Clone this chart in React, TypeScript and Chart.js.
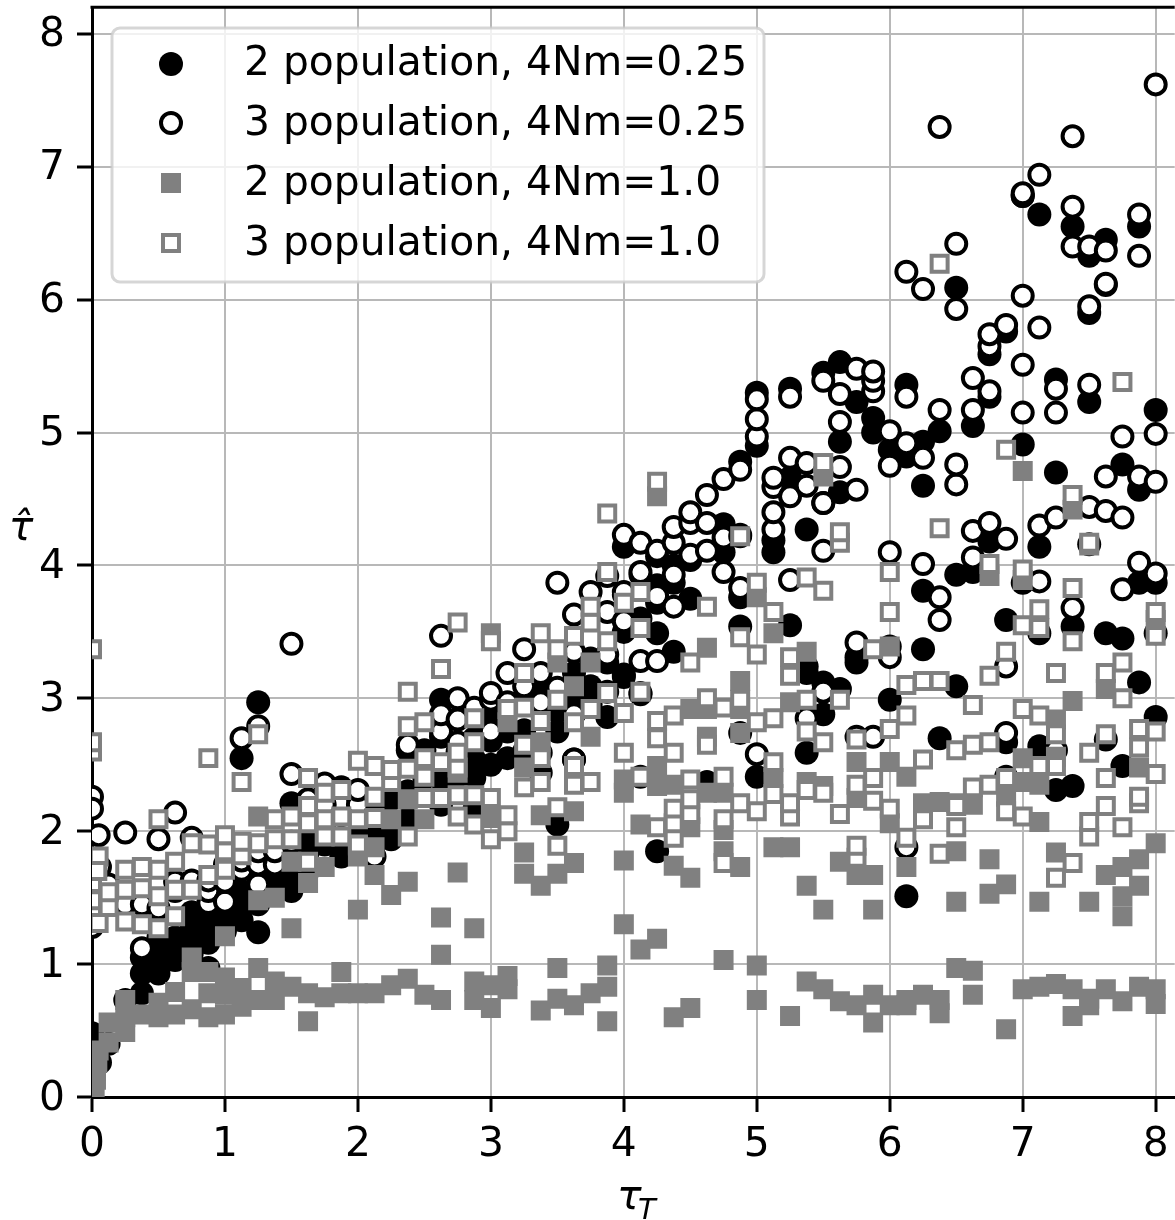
import React, { useEffect, useRef } from "react";
import { Chart, registerables } from "chart.js";

Chart.register(...registerables);

const seriesLabels = [
  "2 population, 4Nm=0.25",
  "3 population, 4Nm=0.25",
  "2 population, 4Nm=1.0",
  "3 population, 4Nm=1.0",
];
const xTicks = [0, 1, 2, 3, 4, 5, 6, 7, 8];
const yTicks = [0, 1, 2, 3, 4, 5, 6, 7, 8];

const twoPopLow: number[][] = [
  [0,0.03],[0,0.48],[0.06,0.26],[0.125,0.4],[0.25,0.73],[0.375,0.78],[0.375,0.93],[0.375,1.05],[0.5,0.93],[0.5,1.05],[0.5,1.2],[0.625,1.03],[0.625,1.1],[0.625,1.2],[0.75,1.08],[0.75,1.18],[0.75,1.28],[0.75,1.39],[0.875,0.97],[0.875,1.16],[0.875,1.26],[0.875,1.35],[1,1.25],[1,1.38],[1,1.5],[1.125,1.33],[1.125,1.45],[1.125,1.55],[1.125,2.55],[1.25,1.24],[1.25,1.45],[1.25,1.7],[1.25,2.97],[1.375,1.54],[1.375,1.6],[1.375,1.75],[1.5,1.55],[1.5,1.66],[1.5,1.75],[1.5,2.21],[1.625,1.7],[1.625,1.85],[1.625,1.94],[1.75,1.9],[1.75,2.0],[1.875,1.81],[1.875,1.95],[1.875,2.33],[2,1.95],[2,2.1],[2,2.25],[2.125,1.91],[2.125,1.99],[2.125,2.15],[2.25,1.94],[2.25,2.05],[2.25,2.24],[2.375,2.09],[2.375,2.3],[2.375,2.61],[2.5,2.4],[2.5,2.61],[2.625,2.2],[2.625,2.39],[2.625,2.71],[2.625,2.99],[2.75,2.35],[2.75,2.6],[2.875,2.16],[2.875,2.4],[2.875,2.54],[2.875,2.7],[3,2.5],[3,2.68],[3,2.85],[3.125,2.55],[3.125,2.75],[3.25,2.6],[3.25,2.76],[3.25,2.95],[3.375,2.44],[3.375,2.59],[3.375,3.1],[3.5,2.05],[3.5,2.75],[3.5,2.9],[3.5,3.0],[3.625,2.54],[3.625,3.0],[3.625,3.19],[3.75,2.95],[3.75,3.09],[3.75,3.3],[3.875,2.86],[3.875,3.05],[3.875,3.27],[4,3.16],[4,3.18],[4,3.5],[4,4.14],[4.125,2.41],[4.125,3.03],[4.125,3.6],[4.25,1.85],[4.25,3.49],[4.25,3.72],[4.25,3.85],[4.25,4.07],[4.375,3.35],[4.375,3.87],[4.375,4.0],[4.5,3.75],[4.5,4.04],[4.625,2.37],[4.75,4.1],[4.75,4.31],[4.875,2.74],[4.875,3.54],[4.875,3.76],[4.875,4.23],[4.875,4.78],[5,2.41],[5,4.9],[5,5.3],[5.125,4.1],[5.125,4.19],[5.25,3.55],[5.25,4.66],[5.25,5.33],[5.375,2.59],[5.375,3.19],[5.375,3.24],[5.375,4.27],[5.5,2.88],[5.5,3.12],[5.5,4.47],[5.5,5.45],[5.625,3.07],[5.625,4.55],[5.625,4.93],[5.625,5.53],[5.75,3.27],[5.75,3.31],[5.75,5.23],[5.875,5.0],[5.875,5.11],[6,2.99],[6,3.39],[6,4.87],[6.125,1.51],[6.125,4.82],[6.125,5.36],[6.25,3.37],[6.25,3.81],[6.25,4.6],[6.25,4.93],[6.375,2.7],[6.375,5.01],[6.5,3.09],[6.5,3.93],[6.5,6.09],[6.625,3.95],[6.625,5.05],[6.75,4.18],[6.75,5.27],[6.75,5.59],[6.875,2.41],[6.875,2.67],[6.875,3.59],[6.875,5.76],[7,3.87],[7,4.91],[7,6.78],[7.125,2.64],[7.125,3.49],[7.125,4.14],[7.125,6.64],[7.25,2.31],[7.25,4.7],[7.25,5.4],[7.375,2.34],[7.375,3.54],[7.375,6.55],[7.5,4.16],[7.5,5.23],[7.5,5.9],[7.5,6.33],[7.625,2.69],[7.625,3.49],[7.625,6.11],[7.625,6.45],[7.75,2.49],[7.75,3.45],[7.75,4.76],[7.875,3.12],[7.875,3.87],[7.875,4.57],[7.875,6.55],[8,2.86],[8,3.49],[8,3.87],[8,5.17],
];

const threePopLow: number[][] = [
  [0,2.26],[0,2.17],[0.05,1.97],[0,1.28],[0.06,1.73],[0.125,1.6],[0.25,1.99],[0.25,1.45],[0.375,1.12],[0.375,1.38],[0.375,1.45],[0.5,1.94],[0.5,1.42],[0.625,1.55],[0.625,1.62],[0.625,2.14],[0.75,1.63],[0.75,1.95],[0.875,1.46],[0.875,1.55],[0.875,1.63],[1,1.47],[1,1.62],[1,1.75],[1.125,1.71],[1.125,1.78],[1.125,2.7],[1.25,1.6],[1.25,1.75],[1.25,1.85],[1.25,2.79],[1.375,1.75],[1.375,1.85],[1.5,1.92],[1.5,2.43],[1.5,3.41],[1.625,2.1],[1.625,2.24],[1.75,2.2],[1.75,2.36],[2,2.2],[2,2.31],[2.125,1.81],[2.375,2.65],[2.625,2.75],[2.625,2.88],[2.625,3.47],[2.75,2.67],[2.75,2.84],[2.75,3.0],[2.875,2.93],[3,2.75],[3,2.99],[3,3.04],[3.125,2.97],[3.125,3.19],[3.25,3.09],[3.25,3.37],[3.375,2.97],[3.375,3.19],[3.5,3.08],[3.5,3.87],[3.625,2.54],[3.625,2.88],[3.625,3.35],[3.625,3.63],[3.75,3.8],[3.875,3.33],[3.875,3.65],[3.875,3.92],[4,3.58],[4,3.78],[4,3.8],[4,4.23],[4.125,3.04],[4.125,3.28],[4.125,3.93],[4.125,3.95],[4.125,4.17],[4.25,3.28],[4.25,3.77],[4.25,4.11],[4.375,3.69],[4.375,3.93],[4.375,4.17],[4.375,4.29],[4.5,4.08],[4.5,4.32],[4.5,4.4],[4.625,4.11],[4.625,4.32],[4.625,4.53],[4.75,3.95],[4.75,4.21],[4.75,4.65],[4.875,3.83],[4.875,4.22],[4.875,4.72],[5,2.58],[5,4.97],[5,5.1],[5,5.25],[5.125,4.27],[5.125,4.4],[5.125,4.59],[5.125,4.66],[5.25,3.89],[5.25,4.52],[5.25,4.81],[5.25,5.27],[5.375,2.85],[5.375,4.6],[5.375,4.77],[5.5,3.05],[5.5,4.11],[5.5,4.47],[5.5,5.39],[5.625,4.74],[5.625,5.08],[5.625,5.29],[5.75,2.71],[5.75,3.42],[5.75,4.57],[5.75,5.48],[5.875,2.71],[5.875,5.31],[5.875,5.39],[5.875,5.46],[6,3.31],[6,4.1],[6,4.75],[6,5.01],[6.125,1.88],[6.125,4.92],[6.125,5.27],[6.125,6.21],[6.25,4.01],[6.25,4.81],[6.25,6.08],[6.375,3.59],[6.375,3.76],[6.375,5.17],[6.375,7.3],[6.5,4.61],[6.5,4.76],[6.5,5.93],[6.5,6.42],[6.625,4.06],[6.625,4.26],[6.625,5.17],[6.625,5.41],[6.75,4.32],[6.75,5.31],[6.75,5.65],[6.75,5.74],[6.875,2.74],[6.875,3.24],[6.875,4.2],[6.875,5.81],[7,5.15],[7,5.51],[7,6.03],[7,6.78],[7,6.8],[7.125,3.88],[7.125,4.3],[7.125,5.79],[7.125,6.94],[7.25,2.61],[7.25,4.36],[7.25,5.15],[7.25,5.33],[7.375,3.68],[7.375,6.4],[7.375,6.7],[7.375,7.23],[7.5,4.44],[7.5,5.36],[7.5,5.95],[7.5,6.4],[7.625,4.41],[7.625,4.67],[7.625,6.12],[7.625,6.37],[7.75,3.82],[7.75,4.36],[7.75,4.97],[7.875,4.02],[7.875,4.67],[7.875,6.33],[7.875,6.64],[8,3.94],[8,4.63],[8,4.99],[8,7.62],
];

const twoPopHigh: number[][] = [
  [0.02,0.05],[0.03,0.13],[0.04,0.26],[0.05,0.35],[0.03,0.2],[0.02,0.3],[0.125,0.41],[0.125,0.56],[0.25,0.49],[0.25,0.6],[0.25,0.73],[0.375,0.62],[0.5,0.6],[0.5,0.71],[0.625,0.62],[0.625,0.79],[0.75,0.66],[0.75,0.94],[0.75,1.05],[0.875,0.6],[0.875,0.78],[0.875,0.94],[1,0.62],[1,0.77],[1,0.9],[1,1.21],[1.125,0.68],[1.125,0.82],[1.25,0.73],[1.25,0.97],[1.25,1.48],[1.25,2.11],[1.375,0.73],[1.375,0.87],[1.375,1.5],[1.5,0.83],[1.5,1.27],[1.5,1.77],[1.625,0.57],[1.625,0.78],[1.625,1.61],[1.75,0.75],[1.75,1.73],[1.875,0.78],[1.875,0.94],[2,0.78],[2,1.41],[2,1.81],[2.125,0.78],[2.125,1.67],[2.125,1.88],[2.25,0.84],[2.25,1.52],[2.25,2.09],[2.375,0.89],[2.375,1.62],[2.375,2.24],[2.5,0.77],[2.5,2.09],[2.625,0.73],[2.625,1.07],[2.625,1.35],[2.75,1.69],[2.75,2.44],[2.875,0.73],[2.875,0.87],[2.875,1.27],[3,0.67],[3,0.84],[3,2.1],[3,3.49],[3.125,0.81],[3.125,0.91],[3.125,2.82],[3.25,1.68],[3.25,1.84],[3.25,2.48],[3.375,0.65],[3.375,1.59],[3.375,2.12],[3.375,2.67],[3.5,0.74],[3.5,0.97],[3.5,1.68],[3.5,3.27],[3.625,0.69],[3.625,1.76],[3.625,2.15],[3.625,3.09],[3.75,0.78],[3.75,2.71],[3.75,3.27],[3.875,0.57],[3.875,0.83],[3.875,0.99],[4,1.3],[4,1.78],[4,2.29],[4,2.39],[4.125,1.11],[4.125,2.05],[4.25,1.19],[4.25,2.34],[4.25,2.49],[4.25,4.52],[4.375,0.6],[4.375,1.74],[4.375,2.35],[4.5,0.67],[4.5,1.65],[4.5,2.03],[4.5,2.92],[4.625,2.29],[4.625,2.71],[4.625,2.92],[4.625,3.38],[4.75,1.03],[4.75,1.85],[4.75,2.01],[4.75,2.29],[4.875,1.73],[4.875,2.74],[4.875,2.92],[4.875,3.13],[5,0.73],[5,0.99],[5,3.76],[5.125,1.88],[5.125,2.4],[5.125,3.49],[5.25,0.61],[5.25,1.88],[5.25,2.97],[5.375,0.87],[5.375,1.59],[5.375,2.37],[5.375,3.35],[5.5,0.81],[5.5,1.41],[5.5,2.34],[5.5,4.67],[5.625,0.72],[5.625,1.77],[5.75,0.69],[5.75,1.67],[5.75,2.25],[5.75,2.52],[5.875,0.56],[5.875,0.77],[5.875,1.41],[5.875,1.67],[6,0.69],[6,2.06],[6,2.52],[6,3.39],[6.125,0.69],[6.125,0.73],[6.125,1.73],[6.125,2.41],[6.25,0.77],[6.25,2.21],[6.375,0.63],[6.375,0.73],[6.375,2.22],[6.5,0.97],[6.5,1.47],[6.5,1.85],[6.5,2.21],[6.625,0.77],[6.625,0.95],[6.625,2.2],[6.75,1.53],[6.75,1.79],[6.75,3.92],[6.875,0.51],[6.875,1.6],[6.875,2.26],[7,0.81],[7,2.37],[7,2.55],[7,3.89],[7,4.71],[7.125,0.83],[7.125,1.47],[7.125,2.07],[7.125,2.35],[7.25,0.85],[7.25,1.84],[7.25,2.56],[7.25,2.84],[7.375,0.61],[7.375,0.81],[7.375,2.98],[7.375,4.42],[7.5,0.69],[7.5,0.74],[7.5,1.47],[7.5,4.15],[7.625,0.81],[7.625,1.67],[7.625,3.07],[7.75,0.72],[7.75,1.36],[7.75,1.51],[7.75,1.73],[7.875,0.83],[7.875,1.59],[7.875,1.79],[7.875,2.48],[8,0.7],[8,0.81],[8,1.91],[8,3.59],
];

const threePopHigh: number[][] = [
  [0,1.39],[0,1.48],[0,1.61],[0,2.6],[0,2.67],[0,3.37],[0.05,1.31],[0.05,1.81],[0.04,1.7],[0.125,1.43],[0.125,1.54],[0.25,1.32],[0.25,1.56],[0.25,1.71],[0.375,1.3],[0.375,1.57],[0.375,1.73],[0.5,1.27],[0.5,1.51],[0.5,1.71],[0.5,2.09],[0.625,1.36],[0.625,1.56],[0.625,1.77],[0.75,1.56],[0.75,1.91],[0.875,1.67],[0.875,1.9],[0.875,2.55],[1,1.71],[1,1.85],[1,1.97],[1.125,1.82],[1.125,1.92],[1.125,2.37],[1.25,1.91],[1.25,2.73],[1.375,1.94],[1.375,2.09],[1.5,1.94],[1.5,2.11],[1.625,1.77],[1.625,2.06],[1.625,2.19],[1.625,2.4],[1.75,1.96],[1.75,2.09],[1.75,2.29],[1.875,1.96],[1.875,2.11],[1.875,2.31],[2,1.89],[2,1.9],[2,2.09],[2,2.53],[2.125,2.1],[2.125,2.26],[2.125,2.49],[2.25,2.37],[2.25,2.46],[2.375,1.96],[2.375,2.47],[2.375,2.79],[2.375,3.05],[2.5,2.25],[2.5,2.41],[2.5,2.55],[2.5,2.82],[2.625,2.25],[2.625,2.52],[2.625,3.22],[2.75,2.11],[2.75,2.27],[2.75,2.48],[2.75,2.59],[2.75,3.57],[2.875,2.05],[2.875,2.27],[2.875,2.67],[2.875,2.85],[3,1.94],[3,2.25],[3,3.43],[3.125,2.0],[3.125,2.12],[3.125,2.92],[3.25,2.33],[3.25,2.65],[3.25,2.93],[3.25,3.19],[3.375,2.37],[3.375,2.55],[3.375,2.83],[3.375,3.49],[3.5,1.89],[3.5,2.18],[3.5,2.99],[3.5,3.37],[3.625,2.35],[3.625,2.49],[3.625,2.82],[3.625,3.47],[3.75,2.37],[3.75,2.92],[3.75,3.57],[3.75,3.69],[3.875,3.04],[3.875,3.43],[3.875,3.95],[3.875,4.39],[4,2.59],[4,2.89],[4,3.72],[4.125,2.41],[4.125,3.05],[4.125,3.53],[4.125,3.8],[4.25,2.03],[4.25,2.7],[4.25,2.83],[4.25,4.63],[4.375,1.95],[4.375,2.06],[4.375,2.17],[4.375,2.59],[4.375,2.87],[4.5,2.13],[4.5,2.24],[4.5,2.39],[4.5,3.27],[4.625,2.65],[4.625,3.0],[4.625,3.69],[4.75,1.76],[4.75,2.09],[4.75,2.41],[4.75,2.93],[4.875,2.21],[4.875,2.99],[4.875,3.46],[4.875,4.22],[5,2.15],[5,2.82],[5,3.33],[5,3.87],[5.125,2.28],[5.125,2.52],[5.125,2.85],[5.125,3.65],[5.25,2.11],[5.25,2.21],[5.25,3.17],[5.25,3.31],[5.375,2.31],[5.375,2.75],[5.375,2.99],[5.375,3.91],[5.5,2.29],[5.5,2.67],[5.5,3.81],[5.5,4.77],[5.625,2.13],[5.625,2.99],[5.625,4.17],[5.625,4.25],[5.75,1.8],[5.75,1.89],[5.75,2.35],[5.75,2.69],[5.875,2.23],[5.875,2.4],[5.875,3.37],[6,2.17],[6,2.77],[6,3.65],[6,3.95],[6.125,1.95],[6.125,2.87],[6.125,3.1],[6.25,2.09],[6.25,2.54],[6.25,3.13],[6.375,1.83],[6.375,3.13],[6.375,4.28],[6.375,6.27],[6.5,2.03],[6.5,2.19],[6.5,2.61],[6.625,2.33],[6.625,2.65],[6.625,2.95],[6.75,2.35],[6.75,2.67],[6.75,3.17],[6.75,4.01],[6.875,2.15],[6.875,2.4],[6.875,3.35],[6.875,4.87],[7,2.11],[7,2.92],[7,3.55],[7,3.97],[7.125,2.49],[7.125,2.87],[7.125,3.53],[7.125,3.67],[7.25,1.65],[7.25,2.49],[7.25,2.73],[7.25,3.19],[7.375,1.76],[7.375,3.43],[7.375,3.83],[7.375,4.53],[7.5,1.96],[7.5,2.07],[7.5,2.59],[7.5,4.17],[7.625,2.19],[7.625,2.4],[7.625,2.73],[7.625,3.19],[7.75,2.03],[7.75,3.0],[7.75,3.27],[7.75,5.38],[7.875,2.21],[7.875,2.26],[7.875,2.63],[7.875,2.77],[8,2.43],[8,2.75],[8,3.47],[8,3.65],
];

const toPoints = (rows: number[][]) => rows.map(([x, y]) => ({ x, y }));

const FONT = '"DejaVu Sans"';
const FONT_SIZE = 40.8;
const SHIFT_Y = 8;
const SHIFT_X = 15;

const zeroPadding = (s: any) => {
  s.paddingTop = 0;
  s.paddingBottom = 0;
  s.paddingLeft = 0;
  s.paddingRight = 0;
};

function drawMarker(ctx: any, d: any, x: number, y: number) {
  ctx.beginPath();
  if (d.pointStyle === "circle") {
    ctx.arc(x, y, d.pointRadius, 0, Math.PI * 2);
  } else {
    const h = d.pointRadius * Math.SQRT1_2;
    ctx.rect(x - h, y - h, 2 * h, 2 * h);
  }
  ctx.closePath();
  ctx.fill();
  if (d.pointBorderWidth) ctx.stroke();
}

const decorations = {
  id: "decorations",
  afterDraw(chart: any) {
    const { ctx, chartArea: a } = chart;
    ctx.save();
    // top spine
    ctx.strokeStyle = "#000";
    ctx.lineWidth = 3;
    ctx.beginPath();
    ctx.moveTo(a.left - 1.5, a.top);
    ctx.lineTo(a.right, a.top);
    ctx.stroke();

    ctx.translate(0, SHIFT_Y);

    // axis titles
    ctx.fillStyle = "#000";
    ctx.textBaseline = "alphabetic";
    ctx.textAlign = "left";
    ctx.font = `italic ${FONT_SIZE}px ${FONT}`;
    ctx.fillText("τ", 617, 1209);
    ctx.font = `italic 29px ${FONT}`;
    ctx.fillText("T", 638, 1219);
    ctx.textAlign = "center";
    ctx.font = `italic ${FONT_SIZE}px ${FONT}`;
    ctx.fillText("τ\u0302", 21, 540);

    // legend
    const lx = 112, ly = 28, lw = 652, lh = 254;
    ctx.beginPath();
    ctx.roundRect(lx, ly, lw, lh, 8);
    ctx.fillStyle = "rgba(255,255,255,0.8)";
    ctx.fill();
    ctx.strokeStyle = "rgba(204,204,204,0.8)";
    ctx.lineWidth = 3;
    ctx.stroke();

    const rows = [64, 123, 183, 243];
    const textRows = [64, 124, 184, 244];
    chart.data.datasets.forEach((d: any, i: number) => {
      ctx.fillStyle = d.pointBackgroundColor;
      ctx.strokeStyle = d.pointBorderColor;
      ctx.lineWidth = d.pointBorderWidth;
      drawMarker(ctx, d, 171, rows[i]);
      ctx.fillStyle = "#000";
      ctx.font = `${FONT_SIZE}px ${FONT}`;
      ctx.textAlign = "left";
      ctx.textBaseline = "middle";
      ctx.fillText(d.label, 244, textRows[i]);
    });
    ctx.restore();
  },
};

export default function App() {
  const ref = useRef<HTMLCanvasElement>(null);
  useEffect(() => {
    const chart = new Chart(ref.current as HTMLCanvasElement, {
      type: "scatter",
      data: {
        datasets: [
          { label: seriesLabels[0], order: 4, data: toPoints(twoPopLow), pointStyle: "circle", pointRadius: 12, pointBorderWidth: 0, pointBackgroundColor: "#000", pointBorderColor: "#000", clip: 0 },
          { label: seriesLabels[1], order: 3, data: toPoints(threePopLow), pointStyle: "circle", pointRadius: 10, pointBorderWidth: 4, pointBackgroundColor: "#fff", pointBorderColor: "#000", clip: 0 },
          { label: seriesLabels[2], order: 2, data: toPoints(twoPopHigh), pointStyle: "rect", pointRadius: 14.14, pointBorderWidth: 0, pointBackgroundColor: "#808080", pointBorderColor: "#808080", clip: 0 },
          { label: seriesLabels[3], order: 1, data: toPoints(threePopHigh), pointStyle: "rect", pointRadius: 11.3, pointBorderWidth: 4, pointBackgroundColor: "#fff", pointBorderColor: "#808080", clip: 0 },
        ] as any,
      },
      options: {
        responsive: false,
        animation: false,
        devicePixelRatio: 1,
        layout: { padding: 0 },
        plugins: { legend: { display: false }, tooltip: { enabled: false } },
        scales: {
          x: {
            type: "linear",
            min: 0,
            max: 8.143,
            afterFit: (s: any) => { s.height = 123; zeroPadding(s); },
            afterBuildTicks: (s: any) => { s.ticks = xTicks.map((value) => ({ value })); },
            border: { color: "#000", width: 3 },
            grid: { color: "#b8b8b8", lineWidth: 2, tickColor: "#000", tickWidth: 3, tickLength: 15 },
            ticks: { color: "#000", font: { family: "DejaVu Sans", size: FONT_SIZE }, padding: 9, maxRotation: 0, autoSkip: false, includeBounds: false },
          },
          y: {
            type: "linear",
            min: 0,
            max: 8.2,
            afterFit: (s: any) => { s.width = 92; zeroPadding(s); },
            afterBuildTicks: (s: any) => { s.ticks = yTicks.map((value) => ({ value })); },
            border: { color: "#000", width: 3 },
            grid: { color: "#b8b8b8", lineWidth: 2, tickColor: "#000", tickWidth: 3, tickLength: 15 },
            ticks: { color: "#000", font: { family: "DejaVu Sans", size: FONT_SIZE }, padding: 12, labelOffset: 2, autoSkip: false, includeBounds: false },
          },
        },
      } as any,
      plugins: [decorations],
    });
    return () => chart.destroy();
  }, []);
  return (
    <div style={{ position: "fixed", left: 0, top: 0, width: 1175, height: 1220, overflow: "hidden", background: "#fff" }}>
      <canvas
        ref={ref}
        width={1175 + SHIFT_X}
        height={1220 + SHIFT_Y}
        style={{ position: "absolute", left: 0, top: -SHIFT_Y, display: "block" }}
      />
    </div>
  );
}
